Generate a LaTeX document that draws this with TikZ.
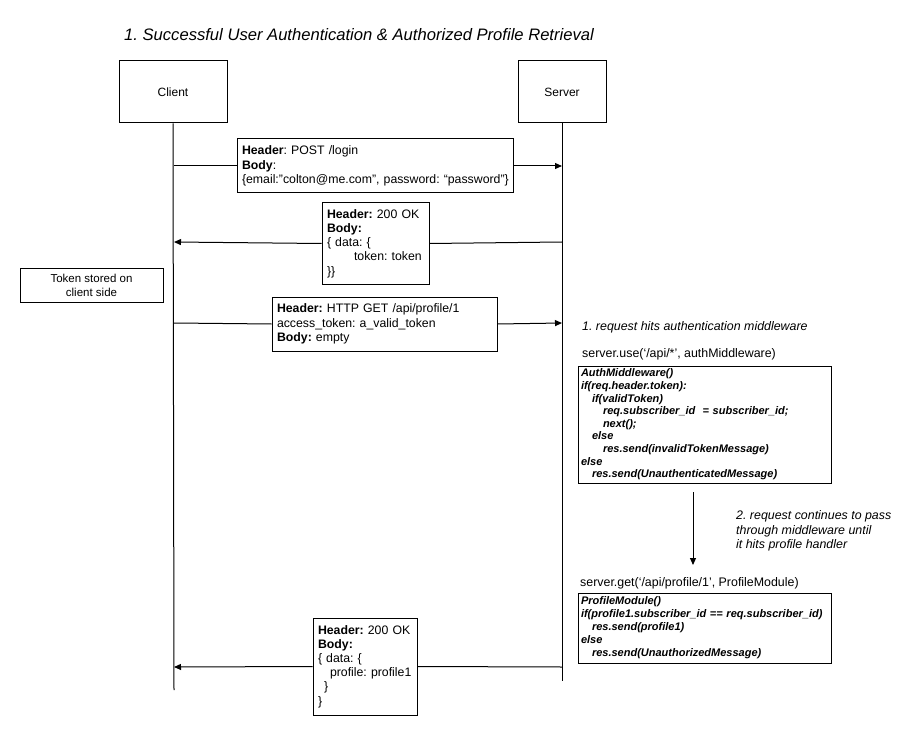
\documentclass[tikz,border=0pt]{standalone}
\usepackage{fontspec}
\setmainfont{Liberation Sans}
\usetikzlibrary{arrows.meta}
\frenchspacing

\tikzset{
  actor/.style={draw, line width=1pt, fill=white, minimum width=108pt, minimum height=62pt,
    font=\fontsize{12}{14}\selectfont},
  msgbox/.style={draw, line width=1pt, fill=white, inner xsep=5pt, inner ysep=0pt, align=left,
    font=\fontsize{12.3}{14.2}\selectfont},
  codebox/.style={draw, line width=1pt, fill=white, inner xsep=3pt, inner ysep=0pt, align=left,
    font=\fontsize{11}{12.6}\selectfont\bfseries\itshape},
  note/.style={anchor=west, inner sep=0pt, align=left, font=\fontsize{12.4}{14.5}\selectfont},
  lifeline/.style={line width=1pt},
  msg/.style={line width=1pt},
  tip/.style={line width=1pt, -{Triangle[length=7pt,width=6pt]}},
}

\begin{document}
\begin{tikzpicture}[x=1pt,y=-1pt]
\useasboundingbox (0,0) rectangle (920,735);

% title
\node[note, font=\fontsize{16.6}{18}\selectfont\itshape] (title) at (124,35)
  {1. Successful User Authentication \& Authorized Profile Retrieval};

% participants and lifelines
\node[actor] (client) at (173,92) {Client};
\node[actor, minimum width=88pt] (server) at (562,92) {Server};
\coordinate (clientEnd) at (174,690);
\coordinate (serverEnd) at (562,681);
\draw[lifeline] (client.south) -- (clientEnd);
\draw[lifeline] (server.south) -- (serverEnd);

% anchor points of the messages on the lifelines
\coordinate (c1) at (174,166); \coordinate (s1) at (562,166);
\coordinate (c2) at (174,242); \coordinate (s2) at (562,242);
\coordinate (c3) at (174,323); \coordinate (s3) at (562,323);
\coordinate (c4) at (174,667); \coordinate (s4) at (562,667);

% login request
\node[msgbox, minimum width=276pt, minimum height=54pt, text width=266pt] (m1) at (375,166)
  {\textbf{Header}: POST /login\\
   \textbf{Body}:\\
   \mbox{\{email:”colton@me.com”, password: “password”\}}};
\draw[msg] (c1) -- (m1.west);
\draw[tip] (m1.east) -- (s1);

% login response
\node[msgbox, minimum width=107pt, minimum height=81pt, text width=97pt] (m2) at (375.5,243.5)
  {\textbf{Header:} 200 OK\\
   \textbf{Body:}\\
   \{ data: \{\\
   \hspace*{27pt}token: token\\
   \}\}};
\draw[msg] (s2) -- (m2.east);
\draw[tip] (m2.west) -- (c2);

% client note
\node[draw, line width=1pt, minimum width=143pt, minimum height=34pt, align=center, inner sep=0pt,
  font=\fontsize{11.5}{14}\selectfont] (store) at (91.5,285) {Token stored on\\client side};

% profile request
\node[msgbox, minimum width=225pt, minimum height=54pt, text width=215pt] (m3) at (384.5,324)
  {\textbf{Header:} HTTP GET /api/profile/1\\
   access\_token: a\_valid\_token\\
   \textbf{Body:} empty};
\draw[msg] (c3) -- (m3.west);
\draw[tip] (m3.east) -- (s3);

% server side handling
\node[note, font=\fontsize{12.4}{14.5}\selectfont\itshape] (step1) at (582,327)
  {1. request hits authentication middleware};
\node[note] (useCall) at (582,354) {server.use(‘/api/*’, authMiddleware)};

\node[codebox, minimum width=253pt, minimum height=117pt, text width=247pt] (auth) at (704.5,424.5)
  {AuthMiddleware()\\
   if(req.header.token):\\
   \hspace*{11pt}if(validToken)\\
   \hspace*{22pt}req.subscriber\_id~~= subscriber\_id;\\
   \hspace*{22pt}next();\\
   \hspace*{11pt}else\\
   \hspace*{22pt}res.send(invalidTokenMessage)\\
   else\\
   \hspace*{11pt}res.send(UnauthenticatedMessage)};

\coordinate (flowTop) at (693,492);
\coordinate (flowBot) at (693,565);
\draw[tip] (flowTop) -- (flowBot);
\node[note, font=\fontsize{12.4}{14.5}\selectfont\itshape] (step2) at (736,531)
  {2. request continues to pass\\through middleware until\\it hits profile handler};

\node[note] (getCall) at (580,583) {server.get(‘/api/profile/1’, ProfileModule)};

\node[codebox, minimum width=253pt, minimum height=70pt, text width=247pt, font=\fontsize{11}{13}\selectfont\bfseries\itshape] (profile) at (704.5,628)
  {ProfileModule()\\
   if(profile1.subscriber\_id == req.subscriber\_id)\\
   \hspace*{11pt}res.send(profile1)\\
   else\\
   \hspace*{11pt}res.send(UnauthorizedMessage)};

% profile response
\node[msgbox, minimum width=104pt, minimum height=97pt, text width=94pt] (m4) at (365,666.5)
  {\textbf{Header:} 200 OK\\
   \textbf{Body:}\\
   \{ data: \{\\
   \hspace*{12pt}profile: profile1\\
   \hspace*{6pt}\}\\
   \}};
\draw[msg] (s4) -- (m4.east);
\draw[tip] (m4.west) -- (c4);
\end{tikzpicture}
\end{document}
